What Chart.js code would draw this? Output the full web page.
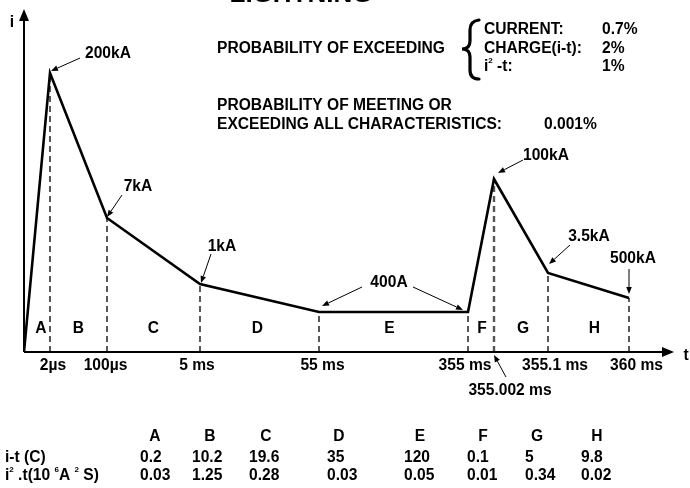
<!DOCTYPE html>
<html><head><meta charset="utf-8">
<script src="https://cdn.jsdelivr.net/npm/chart.js@4/dist/chart.umd.min.js"></script>
<style>html,body{margin:0;padding:0;background:#fff;}#wrap{width:690px;height:488px;position:relative;}</style>
</head><body><div id="wrap"><canvas id="c"></canvas></div>
<script>
// ---- data ----
const segments   = ['A','B','C','D','E','F','G','H'];
const timeLabels = ['2µs','100µs','5 ms','55 ms','355 ms','355.002 ms','355.1 ms','360 ms'];
// schematic abscissa of origin + 8 breakpoints (not to time scale)
const breakX     = [0, 26, 83, 176, 295, 444, 470, 524, 605];
// schematic current height at origin + 8 breakpoints
const currentY   = [0, 279, 134, 68, 40, 40, 173, 79, 54];
const peakLabels = ['200kA','7kA','1kA','400A','400A','100kA','3.5kA','500kA'];
const chargeC    = [0.2, 10.2, 19.6, 35, 120, 0.1, 5, 9.8];
const actionI2t  = [0.03, 1.25, 0.28, 0.03, 0.05, 0.01, 0.34, 0.02];
const probItems  = ['CURRENT:','CHARGE(i-t):','i² -t:'];
const probValues = ['0.7%','2%','1%'];
const probAll    = '0.001%';

// ---- layout ----
const FONT = 'bold 15.6px "Liberation Sans", Arial, sans-serif';
const SUPF = 'bold 8px "Liberation Sans", Arial, sans-serif';
const annot = [ // text centre offset, arrow start offset, arrow end offset (px, relative to point)
  {tx:58, ty:-19, ax:30, ay:-15, ex:1, ey:-2},
  {tx:31, ty:-31, ax:15, ay:-23, ex:0, ey:-1},
  {tx:22, ty:-37, ax:11, ay:-30, ex:1, ey:-1},
  null, null,
  {tx:52, ty:-23, ax:29, ay:-19, ex:4, ey:-6},
  {tx:41, ty:-36, ax:22, ay:-28, ex:1, ey:-9},
  {tx:4,  ty:-39, ax:0,  ay:-29, ex:0, ey:-4}
];
const tickDx = [3,-1.5,-3,3.5,-3,0,7,7.5];
const letterDx = [4,0,0,-2,-4,1,2,6];
const colX = [140,192,249,327,404,467,525,581];
const headDx = [15,18,17,12,16,16,12,16];
const tableY = [437, 458, 476];

const curve = breakX.map((x,i)=>({x:x, y:currentY[i]}));
const datasets = [{
  data: curve, borderColor:'#000', borderWidth:2.6, pointRadius:0, tension:0, order:0
}];
for (let i=1;i<breakX.length;i++){
  datasets.push({data:[{x:breakX[i],y:0},{x:breakX[i],y:currentY[i]}],
    borderColor: i===6 ? '#555' : '#222', borderWidth: i===6 ? 2.4 : 1.5,
    borderDash:[6,4], pointRadius:0, order:1});
}

function arrow(ctx,x1,y1,x2,y2,head,w){
  head=head||7; w=w||1;
  ctx.save(); ctx.strokeStyle='#000'; ctx.fillStyle='#000'; ctx.lineWidth=w;
  const a=Math.atan2(y2-y1,x2-x1);
  const bx=x2-head*Math.cos(a), by=y2-head*Math.sin(a);
  ctx.beginPath(); ctx.moveTo(x1,y1); ctx.lineTo(bx,by); ctx.stroke();
  const h=head*0.4;
  ctx.beginPath(); ctx.moveTo(x2,y2);
  ctx.lineTo(bx+h*Math.sin(a), by-h*Math.cos(a));
  ctx.lineTo(bx-h*Math.sin(a), by+h*Math.cos(a));
  ctx.closePath(); ctx.fill(); ctx.restore();
}
function rich(ctx,parts,x,y){
  let cx=x;
  parts.forEach(p=>{
    ctx.font = p[1] ? SUPF : FONT;
    ctx.fillText(p[0], cx, p[1] ? y-6 : y);
    cx += ctx.measureText(p[0]).width;
  });
}

const decor = {
  id:'decor',
  afterDraw(chart){
    const ctx=chart.ctx, xs=chart.scales.x, ys=chart.scales.y;
    const px=v=>xs.getPixelForValue(v), py=v=>ys.getPixelForValue(v);
    const x0=px(0), y0=py(0), xr=chart.chartArea.right, yt=chart.chartArea.top;
    ctx.save();
    // axes
    ctx.strokeStyle='#000'; ctx.fillStyle='#000'; ctx.lineWidth=2;
    ctx.beginPath(); ctx.moveTo(x0,y0); ctx.lineTo(x0,yt+8); ctx.stroke();
    ctx.beginPath(); ctx.moveTo(x0,yt-1); ctx.lineTo(x0-5,yt+11); ctx.lineTo(x0+5,yt+11); ctx.closePath(); ctx.fill();
    ctx.beginPath(); ctx.moveTo(x0,y0); ctx.lineTo(xr-8,y0); ctx.stroke();
    ctx.beginPath(); ctx.moveTo(xr+1,y0); ctx.lineTo(xr-11,y0-5); ctx.lineTo(xr-11,y0+5); ctx.closePath(); ctx.fill();

    ctx.font=FONT; ctx.textBaseline='middle'; ctx.textAlign='center';
    ctx.fillText('i', 12, 23);
    ctx.fillText('t', 686, 356);

    // title (cut at top)
    ctx.font='bold 26px "Liberation Sans", Arial, sans-serif'; ctx.textBaseline='alphabetic';
    ctx.fillText('LIGHTNING', 301, 2);
    ctx.font=FONT; ctx.textBaseline='middle';

    // segment letters
    for (let i=0;i<segments.length;i++){
      const m=(px(breakX[i])+px(breakX[i+1]))/2 + letterDx[i];
      ctx.fillText(segments[i], m, 329);
    }
    // tick labels
    for (let i=0;i<timeLabels.length;i++){
      const x=px(breakX[i+1]);
      if (i===5){
        ctx.fillText(timeLabels[i], x+16, 391);
        arrow(ctx, x+12, y0+25, x, y0+3, 7, 1);
      } else {
        ctx.fillText(timeLabels[i], x+tickDx[i], 366);
      }
    }
    // peak annotations
    for (let i=0;i<peakLabels.length;i++){
      const a=annot[i]; if(!a) continue;
      const x=px(breakX[i+1]), y=py(currentY[i+1]);
      ctx.fillText(peakLabels[i], x+a.tx, y+a.ty);
      arrow(ctx, x+a.ax, y+a.ay, x+a.ex, y+a.ey, 7, 1);
    }
    // 400A (shared)
    {
      const xa=px(breakX[4]), ya=py(currentY[4]), xb=px(breakX[5]), yb=py(currentY[5]);
      const tx=(xa+xb)/2-4.5, ty=ya-29;
      ctx.fillText(peakLabels[3], tx, ty);
      arrow(ctx, tx-27, ty+4, xa+3, ya-6, 7, 1);
      arrow(ctx, tx+24, ty+4, xb-5, yb-2, 7, 1);
    }

    // probability block
    ctx.textAlign='left';
    ctx.fillText('PROBABILITY OF EXCEEDING', 217, 49);
    const rowsY=[30,49,67];
    for (let i=0;i<probItems.length;i++){
      if (i===2){ rich(ctx,[['i',0],['2',1],[' -t:',0]],484,rowsY[i]); ctx.font=FONT; }
      else ctx.fillText(probItems[i],484,rowsY[i]);
      ctx.fillText(probValues[i],602,rowsY[i]);
    }
    // brace
    ctx.lineWidth=3.2; ctx.lineCap='round';
    ctx.beginPath();
    ctx.moveTo(479,20);
    ctx.quadraticCurveTo(470,21,470,30);
    ctx.lineTo(470,41);
    ctx.quadraticCurveTo(470,49,462,49);
    ctx.quadraticCurveTo(470,49,470,57);
    ctx.lineTo(470,70);
    ctx.quadraticCurveTo(470,79,479,79);
    ctx.stroke();

    ctx.fillText('PROBABILITY OF MEETING OR', 217, 106);
    ctx.fillText('EXCEEDING ALL CHARACTERISTICS:', 217, 125);
    ctx.fillText(probAll, 544, 125);

    // table
    for (let i=0;i<segments.length;i++){
      ctx.textAlign='center';
      ctx.fillText(segments[i], colX[i]+headDx[i], tableY[0]);
      ctx.textAlign='left';
      ctx.fillText(String(chargeC[i]), colX[i], tableY[1]);
      ctx.fillText(String(actionI2t[i]), colX[i], tableY[2]);
    }
    ctx.fillText('i-t (C)', 5, tableY[1]);
    rich(ctx,[['i',0],['2',1],[' .t(10 ',0],['6',1],['A ',0],['2',1],[' S)',0]],5,tableY[2]);
    ctx.restore();
  }
};

new Chart(document.getElementById('c'), {
  type:'line',
  data:{datasets},
  options:{
    responsive:true, maintainAspectRatio:false, animation:false,
    layout:{padding:{left:24,right:17,top:10,bottom:136}},
    scales:{
      x:{type:'linear', min:0, max:649, display:false},
      y:{type:'linear', min:0, max:342, display:false}
    },
    plugins:{legend:{display:false}, tooltip:{enabled:false}},
    elements:{line:{borderCapStyle:'butt'}}
  },
  plugins:[decor]
});
</script></body></html>
